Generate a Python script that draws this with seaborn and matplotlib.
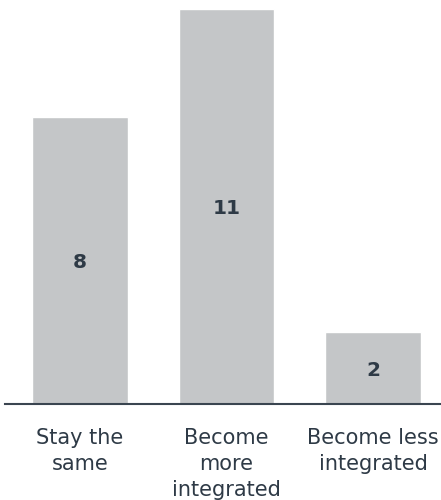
import matplotlib
matplotlib.use("Agg")
import matplotlib.pyplot as plt
import seaborn as sns
import pandas as pd

categories = ["Stay the\nsame", "Become\nmore\nintegrated", "Become less\nintegrated"]
counts = [8, 11, 2]

bar_color = "#c4c6c8"
text_color = "#2e3a46"
axis_color = "#3a4550"

sns.set_style("white")
plt.rcParams["font.family"] = ["DejaVu Sans"]

df = pd.DataFrame({"category": categories, "count": counts})

fig = plt.figure(figsize=(4.41, 5.0), dpi=100)
ax = fig.add_axes([0.0113, 0.192, 0.9887, 0.808])

sns.barplot(data=df, x="category", y="count", color=bar_color, width=0.655,
            saturation=1, ax=ax)

for patch, val in zip(ax.patches, counts):
    ax.text(patch.get_x() + patch.get_width() / 2, val / 2, str(val),
            ha="center", va="center_baseline", fontsize=14.5, fontweight="bold",
            color=text_color)

ax.set_xlim(-0.512, 2.464)
ax.set_ylim(0, 11.25)
ax.set_xlabel("")
ax.set_ylabel("")
ax.set_yticks([])
ax.tick_params(axis="x", length=0, pad=17, labelsize=15, labelcolor=text_color)
for lbl in ax.get_xticklabels():
    lbl.set_linespacing(1.38)
for side in ["top", "left", "right"]:
    ax.spines[side].set_visible(False)
ax.spines["bottom"].set_color(axis_color)
ax.spines["bottom"].set_linewidth(1.5)

fig.savefig("out.png", dpi=100)
